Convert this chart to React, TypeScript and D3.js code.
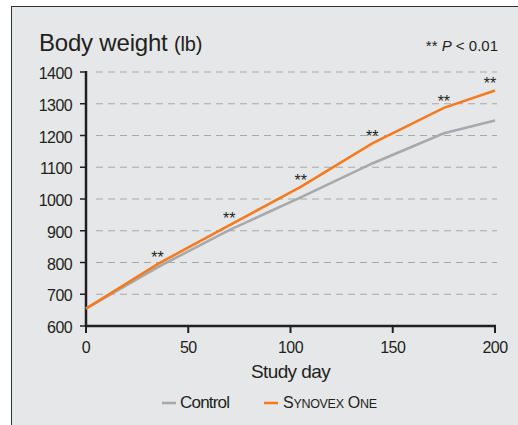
import * as d3 from 'd3';

// study days and mean body weights (lb)
const days = [0, 35, 70, 105, 140, 175, 200];
const controlWeights = [655, 785, 902, 1005, 1112, 1207, 1247];
const synovexWeights = [655, 795, 917, 1038, 1175, 1287, 1342];
const starDays = [35, 70, 105, 140, 175, 200];
const yTicks = [600, 700, 800, 900, 1000, 1100, 1200, 1300, 1400];
const xTicks = [0, 50, 100, 150, 200];

const W = 518;
const H = 425;
const font = 'Arial, "Liberation Sans", Helvetica, sans-serif';

export default function App() {
  const x = d3.scaleLinear().domain([0, 200]).range([86, 495]);
  const y = d3.scaleLinear().domain([600, 1400]).range([326, 72]);

  const line = d3
    .line<number>()
    .x((_, i) => x(days[i]))
    .y((d) => y(d));

  const grey = '#a7a9ac';
  const orange = '#f47b20';
  const ink = '#231f20';

  return (
    <svg
      width={W}
      height={H}
      style={{ position: 'absolute', left: 0, top: 0, background: '#fff' }}
      fontFamily={font}
    >
      <rect x={11.5} y={6.5} width={W} height={H} fill="#e6e7e8" stroke="#333" strokeWidth={1} />

      {/* title */}
      <text x={39} y={51} fontSize={24} fill={ink} letterSpacing={-0.2}>
        Body weight <tspan fontSize={20}>(lb)</tspan>
      </text>
      <text x={498} y={51} fontSize={15} fill={ink} textAnchor="end">
        ** <tspan fontStyle="italic">P</tspan> &lt; 0.01
      </text>

      {/* gridlines */}
      {yTicks.slice(1).map((t) => (
        <line
          key={t}
          x1={x(0) + 10}
          x2={497}
          y1={y(t)}
          y2={y(t)}
          stroke="#a7a9ac"
          strokeWidth={1.2}
          strokeDasharray="7 5"
        />
      ))}

      {/* y axis */}
      <line x1={x(0)} x2={x(0)} y1={y(1400) - 1} y2={y(600)} stroke={ink} strokeWidth={2.5} />
      {yTicks.map((t) => (
        <g key={t}>
          <line x1={x(0) - 6} x2={x(0)} y1={y(t)} y2={y(t)} stroke={ink} strokeWidth={1.5} />
          <text x={72} y={y(t) + 7} fontSize={16} textAnchor="end" fill={ink} letterSpacing={-0.6}>
            {t}
          </text>
        </g>
      ))}

      {/* x axis */}
      <line x1={x(0) - 1} x2={x(200) + 1} y1={y(600)} y2={y(600)} stroke={ink} strokeWidth={2.5} />
      {xTicks.map((t) => (
        <g key={t}>
          <line x1={x(t)} x2={x(t)} y1={y(600)} y2={y(600) + 7} stroke={ink} strokeWidth={2} />
          <text x={x(t)} y={353} fontSize={16} textAnchor="middle" fill={ink} letterSpacing={-0.6}>
            {t}
          </text>
        </g>
      ))}
      <text x={x(100)} y={378} fontSize={19} textAnchor="middle" fill={ink} letterSpacing={-0.6}>
        Study day
      </text>

      {/* series */}
      <path d={line(controlWeights) ?? ''} fill="none" stroke={grey} strokeWidth={2.6} />
      <path d={line(synovexWeights) ?? ''} fill="none" stroke={orange} strokeWidth={2.6} />

      {/* significance markers */}
      {starDays.map((d) => {
        const i = days.indexOf(d);
        return (
          <text
            key={d}
            x={x(d) - (d === 200 ? 5 : 0)}
            y={y(synovexWeights[i]) - 1}
            fontSize={16}
            textAnchor="middle"
            fill={ink}
          >
            **
          </text>
        );
      })}

      {/* legend */}
      <line x1={162} x2={176} y1={403} y2={403} stroke={grey} strokeWidth={2.6} />
      <text x={180} y={408} fontSize={17} fill={ink} letterSpacing={-0.8}>
        Control
      </text>
      <line x1={264} x2={278} y1={403} y2={403} stroke={orange} strokeWidth={2.6} />
      <text x={283} y={408} fontSize={16} fill={ink} letterSpacing={-0.3}>
        S<tspan fontSize={12.5}>YNOVEX</tspan> O<tspan fontSize={12.5}>NE</tspan>
      </text>
    </svg>
  );
}
